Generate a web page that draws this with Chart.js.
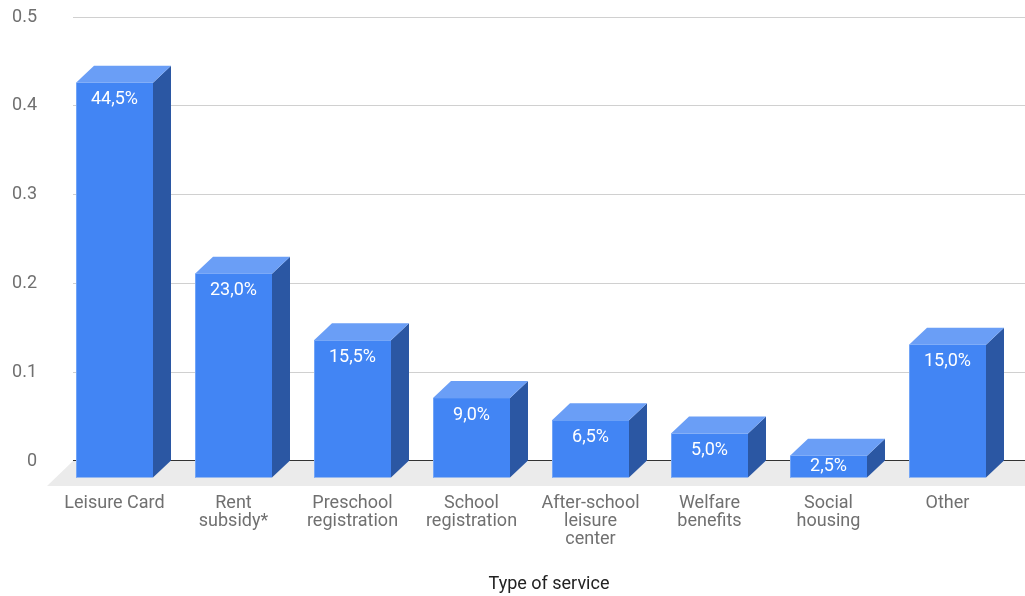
<!DOCTYPE html>
<html>
<head>
<meta charset="utf-8">
<script src="https://cdn.jsdelivr.net/npm/chart.js@4"></script>
<style>
  html, body { margin: 0; padding: 0; background: #fff; }
  #wrap { width: 1025px; height: 596px; }
</style>
</head>
<body>
<div id="wrap"><canvas id="chart" width="1025" height="596"></canvas></div>
<script>
// Service categories (multi-line axis labels)
const categories = [
  ['Leisure Card'],
  ['Rent', 'subsidy*'],
  ['Preschool', 'registration'],
  ['School', 'registration'],
  ['After-school', 'leisure', 'center'],
  ['Welfare', 'benefits'],
  ['Social', 'housing'],
  ['Other']
];
// Share of respondents per service
const shares = [0.445, 0.23, 0.155, 0.09, 0.065, 0.05, 0.025, 0.15];
// Value axis ticks
const yTickValues = [0, 0.1, 0.2, 0.3, 0.4, 0.5];
const yTickLabels = ['0', '0.1', '0.2', '0.3', '0.4', '0.5'];
const axisTitle = 'Type of service';

// Box depth (front face is pushed down-left from the value plane)
const DEPTH_X = 18, DEPTH_Y = 17;
const FLOOR_X = 26, FLOOR_Y = 25;
const FACE = { front: '#4285f4', top: '#6a9ef6', side: '#2b57a3', edge: '#72a5f7' };
const FONT = 'Roboto';

function pct(v) {
  return (v * 100).toFixed(1).replace('.', ',') + '%';
}

const boxes3d = {
  id: 'boxes3d',
  beforeDatasetsDraw(chart) {
    const { ctx, chartArea: a } = chart;
    const y0 = chart.scales.y.getPixelForValue(0);
    ctx.save();
    // floor
    ctx.fillStyle = '#ebebeb';
    ctx.beginPath();
    ctx.moveTo(a.left, y0);
    ctx.lineTo(chart.width + FLOOR_X, y0);
    ctx.lineTo(chart.width, y0 + FLOOR_Y);
    ctx.lineTo(a.left - FLOOR_X, y0 + FLOOR_Y);
    ctx.closePath();
    ctx.fill();
    // baseline
    ctx.strokeStyle = '#333333';
    ctx.lineWidth = 1;
    ctx.beginPath();
    ctx.moveTo(a.left, Math.round(y0) - 0.5);
    ctx.lineTo(chart.width, Math.round(y0) - 0.5);
    ctx.stroke();
    ctx.restore();
  },
  afterDatasetsDraw(chart) {
    const { ctx } = chart;
    const meta = chart.getDatasetMeta(0);
    const values = chart.data.datasets[0].data;
    ctx.save();
    meta.data.forEach((el, i) => {
      const { x, y, base, width } = el.getProps(['x', 'y', 'base', 'width'], true);
      const l = x - width / 2, r = x + width / 2;
      const fl = l - DEPTH_X, fr = r - DEPTH_X;
      const ft = y + DEPTH_Y, fb = base + DEPTH_Y;
      // side face
      ctx.fillStyle = FACE.side;
      ctx.beginPath();
      ctx.moveTo(fr, ft); ctx.lineTo(r, y); ctx.lineTo(r, base); ctx.lineTo(fr, fb);
      ctx.closePath(); ctx.fill();
      // top face
      ctx.fillStyle = FACE.top;
      ctx.beginPath();
      ctx.moveTo(fl, ft); ctx.lineTo(l, y); ctx.lineTo(r, y); ctx.lineTo(fr, ft);
      ctx.closePath(); ctx.fill();
      // front face
      ctx.fillStyle = FACE.front;
      ctx.fillRect(fl, ft, width, fb - ft);
      ctx.strokeStyle = FACE.edge;
      ctx.lineWidth = 1;
      ctx.beginPath();
      ctx.moveTo(Math.round(fl) + 0.5, ft); ctx.lineTo(Math.round(fl) + 0.5, fb);
      ctx.stroke();
      // value label
      ctx.fillStyle = '#ffffff';
      ctx.font = '18px ' + FONT;
      ctx.textAlign = 'center';
      ctx.textBaseline = 'middle';
      const ly = Math.min(ft + 17, (ft + fb) / 2);
      ctx.fillText(pct(values[i]), (fl + fr) / 2, ly);
    });
    ctx.restore();
  }
};

new Chart(document.getElementById('chart'), {
  type: 'bar',
  data: {
    labels: categories,
    datasets: [{
      data: shares,
      backgroundColor: 'rgba(0,0,0,0)',
      borderWidth: 0,
      barPercentage: 0.647,
      categoryPercentage: 1
    }]
  },
  options: {
    responsive: false,
    animation: false,
    events: [],
    layout: { padding: { top: 17, right: 0, bottom: 0, left: 0 } },
    plugins: { legend: { display: false }, tooltip: { enabled: false } },
    scales: {
      x: {
        grid: { display: false, drawTicks: false },
        border: { display: false },
        ticks: {
          color: '#707070',
          font: { family: FONT, size: 18, lineHeight: 1 },
          padding: 33,
          labelOffset: -DEPTH_X,
          maxRotation: 0,
          autoSkip: false
        },
        title: {
          display: true,
          text: axisTitle,
          color: '#222222',
          font: { family: FONT, size: 18 },
          padding: { top: 0, bottom: 1 }
        },
        afterFit(scale) { scale.height = 135; }
      },
      y: {
        min: 0,
        max: 0.5,
        grid: {
          drawTicks: false,
          color: (c) => (c.tick && c.tick.value === 0 ? '#333333' : '#d0d0d0')
        },
        border: { display: false },
        ticks: {
          color: '#707070',
          font: { family: FONT, size: 18 },
          padding: 36,
          callback: (v) => yTickLabels[yTickValues.indexOf(v)]
        },
        afterBuildTicks(scale) {
          scale.ticks = yTickValues.map(v => ({ value: v }));
        },
        afterFit(scale) {
          scale.width = 73;
          scale.paddingTop = 9;
          scale.paddingBottom = 9;
        }
      }
    }
  },
  plugins: [boxes3d]
});
</script>
</body>
</html>
